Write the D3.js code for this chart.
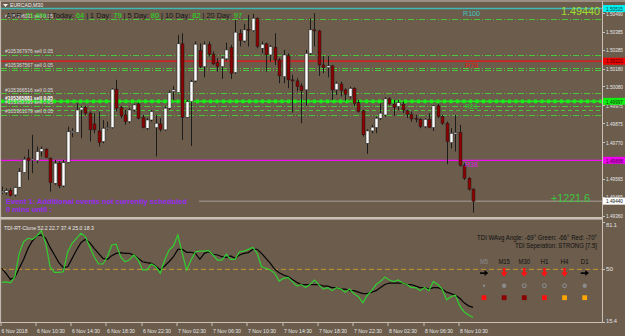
<!DOCTYPE html>
<html><head><meta charset="utf-8">
<script src="https://cdn.jsdelivr.net/npm/d3@7"></script>
<style>html,body{margin:0;padding:0;background:#6b5c4c;overflow:hidden}svg{display:block}</style>
</head><body><svg id="c" width="625" height="336"></svg>
<script>
// ---------- DATA ----------
const opens=[1.49488,1.49488,1.49499,1.49475,1.49518,1.49600,1.49681,1.49668,1.49666,1.49717,1.49730,1.49680,1.49540,1.49652,1.49525,1.49657,1.49823,1.49823,1.49949,1.49964,1.49931,1.49871,1.49832,1.49773,1.49845,1.49851,1.50065,1.49964,1.49921,1.49884,1.49949,1.49983,1.49906,1.49847,1.49893,1.49851,1.49871,1.49838,1.49959,1.50052,1.50046,1.50318,1.49908,1.49996,1.50111,1.50280,1.50191,1.50316,1.50260,1.50213,1.50191,1.50234,1.50297,1.50158,1.50377,1.50334,1.50399,1.50392,1.50461,1.50293,1.50318,1.50256,1.50299,1.50228,1.50135,1.50252,1.50117,1.50111,1.50083,1.50061,1.50265,1.50396,1.50390,1.50200,1.50185,1.50195,1.50061,1.50094,1.50061,1.50024,1.50070,1.49990,1.49944,1.49763,1.49832,1.49851,1.49903,1.49921,1.50011,1.49981,1.49968,1.49981,1.49944,1.49925,1.49903,1.49897,1.49856,1.49897,1.49851,1.49972,1.49912,1.49875,1.49767,1.49815,1.49823,1.49639,1.49568,1.49507];
const highs=[1.49521,1.49512,1.49512,1.49521,1.49624,1.49689,1.49730,1.49810,1.49745,1.49745,1.49735,1.49683,1.49670,1.49661,1.49670,1.49856,1.49847,1.49986,1.49972,1.49972,1.49940,1.49931,1.49940,1.49893,1.49884,1.50070,1.50117,1.49972,1.49949,1.49959,1.49983,1.49990,1.49921,1.49903,1.49949,1.49921,1.49903,1.49968,1.50057,1.50083,1.50368,1.50377,1.50005,1.50117,1.50331,1.50321,1.50331,1.50331,1.50275,1.50238,1.50247,1.50325,1.50312,1.50451,1.50399,1.50429,1.50479,1.50485,1.50465,1.50331,1.50325,1.50312,1.50377,1.50238,1.50284,1.50265,1.50145,1.50126,1.50098,1.50284,1.50461,1.50489,1.50396,1.50251,1.50251,1.50200,1.50107,1.50107,1.50070,1.50079,1.50076,1.50005,1.49949,1.49841,1.49866,1.49912,1.49986,1.50020,1.50020,1.50005,1.50005,1.49996,1.49949,1.49940,1.49921,1.49903,1.49903,1.49931,1.49977,1.49983,1.49921,1.49884,1.49847,1.49921,1.49866,1.49652,1.49574,1.49512];
const lows=[1.49480,1.49475,1.49466,1.49466,1.49512,1.49596,1.49559,1.49596,1.49652,1.49689,1.49680,1.49494,1.49531,1.49512,1.49518,1.49652,1.49797,1.49819,1.49791,1.49921,1.49773,1.49819,1.49745,1.49763,1.49838,1.49845,1.49940,1.49903,1.49866,1.49875,1.49940,1.49897,1.49847,1.49838,1.49884,1.49689,1.49828,1.49834,1.49949,1.50005,1.50042,1.49782,1.49903,1.49748,1.50102,1.50182,1.50131,1.50247,1.50200,1.50163,1.50122,1.50225,1.50122,1.50150,1.50303,1.50325,1.50303,1.50386,1.50293,1.50265,1.50163,1.50219,1.50200,1.50098,1.50098,1.50070,1.49934,1.50052,1.49875,1.49972,1.50256,1.50303,1.50139,1.50154,1.50131,1.50005,1.50033,1.50024,1.50001,1.50014,1.49968,1.49934,1.49800,1.49704,1.49819,1.49819,1.49893,1.49912,1.49977,1.49916,1.49949,1.49931,1.49903,1.49884,1.49880,1.49847,1.49847,1.49847,1.49832,1.49903,1.49866,1.49646,1.49735,1.49717,1.49633,1.49559,1.49499,1.49376];
const closes=[1.49495,1.49499,1.49471,1.49516,1.49605,1.49674,1.49666,1.49674,1.49717,1.49732,1.49685,1.49544,1.49652,1.49525,1.49655,1.49828,1.49830,1.49949,1.49964,1.49931,1.49838,1.49838,1.49767,1.49847,1.49851,1.50065,1.49959,1.49916,1.49884,1.49949,1.49977,1.49903,1.49851,1.49893,1.49940,1.49875,1.49841,1.49959,1.50046,1.50061,1.50318,1.49908,1.49996,1.50107,1.50316,1.50191,1.50316,1.50260,1.50206,1.50191,1.50238,1.50284,1.50154,1.50383,1.50336,1.50396,1.50392,1.50461,1.50303,1.50316,1.50256,1.50303,1.50228,1.50139,1.50256,1.50117,1.50111,1.50079,1.50057,1.50265,1.50396,1.50390,1.50200,1.50185,1.50195,1.50061,1.50098,1.50057,1.50037,1.50070,1.49986,1.49940,1.49810,1.49832,1.49853,1.49903,1.49931,1.50011,1.49983,1.49964,1.49990,1.49949,1.49925,1.49899,1.49897,1.49856,1.49897,1.49851,1.49972,1.49912,1.49875,1.49773,1.49819,1.49823,1.49639,1.49568,1.49507,1.49440];

const tdiGreen=[41.5,41.7,41.2,45.2,60.5,68.2,70.4,69.7,71.9,75.4,67.1,51.7,48.0,48.0,48.4,61.6,67.1,70.4,73.7,71.5,64.9,58.3,53.5,53.5,58.3,66.0,66.6,58.3,55.0,56.1,59.4,56.1,49.6,49.6,53.5,51.7,47.4,56.1,62.7,65.3,72.6,60.5,49.6,56.1,61.6,62.0,62.0,62.3,59.4,56.1,56.1,59.9,56.6,56.6,61.6,62.0,63.1,64.4,60.5,51.7,50.7,49.6,47.4,42.3,44.1,44.7,41.9,39.0,40,38,40,43,40,37,38,36,38,37,35,37,34,32,28,33,36,40,42,45,43,42,43,41,40,38,38,36,38,36,42,40,37,30,32,33,26,22,20,18.3];
const tdiBlack=[50.7,47.4,43.4,44.7,50.7,56.6,63.8,68.8,71.9,72.6,70.4,64.4,59.4,54.4,51.1,51.7,57.2,62.7,67.5,69.7,67.5,63.8,60.5,57.2,56.6,59.0,60.5,61.0,60.5,60.5,59.4,57.2,55.0,54.4,53.9,52.2,49.6,52.2,55.0,58.3,63.1,63.1,61.2,61.2,60.5,56.6,60.5,61.6,59.9,59.4,58.3,57.9,58.8,57.2,59.4,60.5,61.0,63.1,63.1,60.5,57.2,53.9,50.0,47.8,46.3,45.2,43.4,41.5,40,40,40,40,40,39,39,38,38,37,37,36,36,35,34,34,35,36,38,40,41,41,41,41,40,40,39,38,38,37,38,38,37,35,34,33,31,28,26,25];

const priceTicks=[1.50490,1.50385,1.50285,1.50180,1.50080,1.49975,1.49875,1.49770,1.49665,1.49565,1.49465,1.49360];
const subTicks=[81.1,50,15.4];
const timeLabels=["6 Nov 2018","6 Nov 10:30","6 Nov 14:30","6 Nov 18:30","6 Nov 22:30","7 Nov 02:30","7 Nov 06:30","7 Nov 10:30","7 Nov 14:30","7 Nov 18:30","7 Nov 22:30","8 Nov 02:30","8 Nov 06:30","8 Nov 10:30"];
const timeLabelBars=[0,8,16,24,32,40,48,56,64,72,80,88,96,104];

const dashDotLevels=[1.50455,1.50256,1.50182,1.50171,1.50042,1.49972,1.49921];
const dashedLevels=[1.49949];
const entryLevel=1.49997;
const r100=1.50515, r78=1.50221, r38=1.49668, bid=1.49440;
const orderLabels=["#105368031 sell 0.05","#105367976 sell 0.05","#105367567 sell 0.05","#105366516 sell 0.05","#105365881 sell 0.05","#105363339 sell 0.05","#105361079 sell 0.05"];
const orderPrices=[1.50455,1.50256,1.50182,1.50042,1.49997,1.49972,1.49921];
const adrParts=[["ADR: ","#151515"],["71.6%","#19e019"],[" | Today: ","#151515"],["64","#19e019"],[" | 1 Day: ","#151515"],["79","#19e019"],[" | 5 Day: ","#151515"],["80","#19e019"],[" | 10 Day: ","#151515"],["82","#19e019"],[" |  20 Day: ","#151515"],["97","#19e019"]];
const tfNames=["M5","M15","M30","H1","H4","D1"];
const tfArrows=["right","down","down","down","down","right"];
const tfCircles=["dot","fill","ring","ring","ring","fill"];
const tfSquares=["#ff1010","#8b0000","#8b0000","#ff1010","#ffa500","#ffa500"];

// ---------- DRAW ----------
const svg=d3.select("#c");
const W=625,H=336, AX=602;
const BG="#6b5c4c", FRAME="#c9c1b8", AXT="#e6e6e6";
const FONT="'Liberation Sans', Arial, sans-serif";
svg.append("rect").attr("width",W).attr("height",H).attr("fill",BG);

const x=d3.scaleBand().domain(d3.range(opens.length)).range([0.1,0.1+opens.length*4.393]).paddingInner(0.3);
const cx=i=>x(i)+x.bandwidth()/2;
const y=d3.scaleLinear().domain([1.49360,1.50490]).range([215.5,13]);
const ys=d3.scaleLinear().domain([15.4,81.1]).range([322,222]);

function txt(g,xx,yy,s,o={}){
  const t=g.append("text").attr("x",xx).attr("y",yy).text(s)
   .attr("font-family",o.family||FONT).attr("font-size",o.size||6)
   .attr("fill",o.fill||AXT).attr("dominant-baseline","central");
  if(o.anchor) t.attr("text-anchor",o.anchor);
  if(o.weight) t.attr("font-weight",o.weight);
  if(o.len) t.attr("textLength",o.len).attr("lengthAdjust","spacingAndGlyphs");
  return t;
}

// frames
svg.append("line").attr("x1",0).attr("x2",W).attr("y1",1).attr("y2",1).attr("stroke",FRAME).attr("stroke-width",1.2);
svg.append("line").attr("x1",0.6).attr("x2",0.6).attr("y1",1).attr("y2",322).attr("stroke",FRAME);
svg.append("line").attr("x1",AX+0.5).attr("x2",AX+0.5).attr("y1",1).attr("y2",322.5).attr("stroke",FRAME);
svg.append("rect").attr("x",0).attr("y",217).attr("width",AX+1).attr("height",2.6).attr("fill",FRAME);
svg.append("line").attr("x1",0).attr("x2",AX+1).attr("y1",322.5).attr("y2",322.5).attr("stroke",FRAME);

const main=svg.append("g");
main.append("clipPath").attr("id","cm").append("rect").attr("x",1).attr("y",2).attr("width",AX-1).attr("height",214);
const mg=main.append("g").attr("clip-path","url(#cm)");

// level lines
const LG="#4cc43c";
mg.selectAll(".dd").data(dashDotLevels).enter().append("line")
  .attr("x1",1).attr("x2",AX).attr("y1",d=>Math.round(y(d))+0.5).attr("y2",d=>Math.round(y(d))+0.5)
  .attr("stroke",LG).attr("stroke-width",1).attr("stroke-dasharray","6,2,1,2");
mg.selectAll(".dsh").data(dashedLevels).enter().append("line")
  .attr("x1",1).attr("x2",AX).attr("y1",d=>Math.round(y(d))+0.5).attr("y2",d=>Math.round(y(d))+0.5)
  .attr("stroke",LG).attr("stroke-width",1).attr("stroke-dasharray","4,3");
mg.append("line").attr("x1",1).attr("x2",AX).attr("y1",y(entryLevel)).attr("y2",y(entryLevel)).attr("stroke","#19f019").attr("stroke-width",1.6);
mg.append("line").attr("x1",1).attr("x2",AX).attr("y1",y(entryLevel)).attr("y2",y(entryLevel)).attr("stroke","#19f019").attr("stroke-width",3.6).attr("stroke-dasharray","3,3.5");
mg.append("line").attr("x1",1).attr("x2",AX).attr("y1",y(r100)).attr("y2",y(r100)).attr("stroke","#3fb8b4").attr("stroke-width",1.4);
mg.append("line").attr("x1",1).attr("x2",AX).attr("y1",y(r78)).attr("y2",y(r78)).attr("stroke","#f01010").attr("stroke-width",1.2);
mg.append("line").attr("x1",1).attr("x2",AX).attr("y1",y(r38)).attr("y2",y(r38)).attr("stroke","#f010f0").attr("stroke-width",1.3);
mg.append("line").attr("x1",199).attr("x2",AX).attr("y1",y(bid)).attr("y2",y(bid)).attr("stroke","#a8a09a").attr("stroke-width",1);

// candles
const idx=d3.range(opens.length);
mg.selectAll(".wick").data(idx).enter().append("line")
  .attr("x1",i=>Math.round(cx(i))+0.5).attr("x2",i=>Math.round(cx(i))+0.5)
  .attr("y1",i=>y(highs[i])).attr("y2",i=>y(lows[i]))
  .attr("stroke","#1c1c1c").attr("stroke-width",1);
mg.selectAll(".body").data(idx).enter().append("rect")
  .attr("x",i=>Math.round(cx(i))-1)
  .attr("width",3)
  .attr("y",i=>y(Math.max(opens[i],closes[i])))
  .attr("height",i=>Math.max(1,Math.abs(y(opens[i])-y(closes[i]))))
  .attr("fill",i=>closes[i]>=opens[i]?"#ffffff":"#8b0000")
  .attr("stroke","#1c1c1c").attr("stroke-width",0.5);

// order labels
orderLabels.forEach((s,k)=>{
  const hi=(orderPrices[k]===entryLevel);
  txt(mg,5,y(orderPrices[k])-3.5,s,{size:hi?5.6:5.2,fill:hi?"#ffffff":"#dcdcdc",weight:hi?"bold":null,len:48});
});

// R labels
txt(mg,463,y(r100)+4.5,"R100",{size:7.5,fill:"#3fc8c4",len:17});
txt(mg,465,y(r78)+4,"R78",{size:7.5,fill:"#e01818",len:13});
txt(mg,465,y(entryLevel)+5.5,"R61",{size:7.5,fill:"#22d022",len:13});
txt(mg,465,y(r38)+4.5,"R38",{size:7.5,fill:"#e020e0",len:13});

// ADR text
const adr=svg.append("text").attr("x",6).attr("y",14.5).attr("font-family",FONT).attr("font-size",7.6).attr("dominant-baseline","central")
  .attr("textLength",236).attr("lengthAdjust","spacingAndGlyphs");
adrParts.forEach(p=>adr.append("tspan").attr("fill",p[1]).text(p[0]));
// title
svg.append("path").attr("d","M3,4 L8,4 L5.5,7 Z").attr("fill","#f0f0f0");
txt(svg,10,5.3,"EURCAD,M30",{size:6,fill:"#f0f0f0",len:33});

// big price and profit
txt(svg,600,10.5,"1.49440",{size:11.5,fill:"#9ee030",anchor:"end",len:39});
txt(svg,590,198,"+1221.6",{size:11.5,fill:"#3cc83c",anchor:"end",len:39});

// event text
txt(svg,6,201.5,"Event 1: Additional events not currently scheduled",{size:7,fill:"#9a2bf0",weight:"bold",len:181});
txt(svg,6,209.3,"0 mins until :",{size:7,fill:"#9a2bf0",weight:"bold",len:46});

// price axis
const pa=svg.append("g");
priceTicks.forEach(p=>{
  pa.append("line").attr("x1",AX).attr("x2",AX+3).attr("y1",Math.round(y(p))+0.5).attr("y2",Math.round(y(p))+0.5).attr("stroke",FRAME);
  txt(pa,606,y(p)+0.5,p.toFixed(5),{size:5.6,len:17});
});
function tag(p,bg,fg){
  pa.append("rect").attr("x",AX+1).attr("y",y(p)-3.5).attr("width",W-AX-1).attr("height",7).attr("fill",bg);
  txt(pa,606,y(p)+0.2,p.toFixed(5),{size:5.6,fill:fg,len:17});
}
tag(r100,"#00f0f0","#104040");
tag(r78,"#f00000","#400000");
tag(entryLevel,"#10f010","#104010");
tag(r38,"#f000f0","#400040");
tag(bid,"#ffffff","#202020");

// ---------- SUB WINDOW ----------
const sg=svg.append("g");
sg.append("clipPath").attr("id","cs").append("rect").attr("x",1).attr("y",220).attr("width",AX-1).attr("height",102);
const sgc=sg.append("g").attr("clip-path","url(#cs)");
sgc.append("line").attr("x1",1).attr("x2",AX).attr("y1",ys(50)).attr("y2",ys(50)).attr("stroke","#c89632").attr("stroke-width",1).attr("stroke-dasharray","5,3");
const ln=d3.line().x((d,i)=>cx(i)).y(d=>ys(d));
sgc.append("path").attr("d",ln(tdiBlack)).attr("fill","none").attr("stroke","#050505").attr("stroke-width",1.2);
sgc.append("path").attr("d",ln(tdiGreen)).attr("fill","none").attr("stroke","#30d030").attr("stroke-width",1.2);

txt(sg,4,227.5,"TDI-RT-Clone 52.2 22.7 37.4 25.0 18.3",{size:5.8,fill:"#e8e8e8",len:90});
const subLabelY=[224.5,268.5,321];
subTicks.forEach((v,k)=>{
  sg.append("line").attr("x1",AX).attr("x2",AX+3).attr("y1",Math.round(ys(v))+0.5).attr("y2",Math.round(ys(v))+0.5).attr("stroke",FRAME);
  txt(sg,606,subLabelY[k],String(v),{size:5.6,len:v===50?7:11});
});

// TDI panel
txt(sg,597,237.7,"TDI WAvg Angle: -69°  Green: -66°  Red: -70°",{size:6.3,fill:"#101010",anchor:"end",len:120});
txt(sg,597,245.2,"TDI Seperation: STRONG [7.5]",{size:6.3,fill:"#101010",anchor:"end",len:82});
const tfX=d3.scalePoint().domain(tfNames).range([484,584.7]);
tfNames.forEach((n,k)=>{
  const xx=tfX(n);
  txt(sg,xx,261,n,{size:6.8,fill:k===0?"#8c8c8c":"#101010",anchor:"middle",len:n.length===3?11.5:8});
  if(tfArrows[k]==="down"){
    sg.append("path").attr("d",`M${xx-1.2},268 h2.4 v4.5 h2.2 l-3.4,4.3 l-3.4,-4.3 h2.2 z`).attr("fill","#ff1010");
  } else {
    sg.append("path").attr("d",`M${xx-4},272.3 h4.5 v-2.2 l3.8,3 l-3.8,3 v-2.2 h-4.5 z`).attr("fill","#080808");
  }
  const c=tfCircles[k];
  if(c==="dot") sg.append("circle").attr("cx",xx).attr("cy",285.7).attr("r",1.2).attr("fill","#8a8a8a");
  else if(c==="fill") sg.append("circle").attr("cx",xx).attr("cy",285.7).attr("r",2.2).attr("fill","#8a8a8a");
  else sg.append("circle").attr("cx",xx).attr("cy",285.7).attr("r",1.9).attr("fill","none").attr("stroke","#8a8a8a").attr("stroke-width",1.1);
  sg.append("rect").attr("x",xx-2.4).attr("y",295.3).attr("width",4.8).attr("height",4.8).attr("fill",tfSquares[k]);
});

// time axis
const ta=svg.append("g");
timeLabels.forEach((s,k)=>{
  const xx=Math.round(cx(timeLabelBars[k]))-1.5;
  ta.append("line").attr("x1",xx+0.5).attr("x2",xx+0.5).attr("y1",323).attr("y2",326).attr("stroke",FRAME);
  txt(ta,xx+(k===0?1:1.5),331,s,{size:5.6,len:k===0?26:28});
});
</script></body></html>
